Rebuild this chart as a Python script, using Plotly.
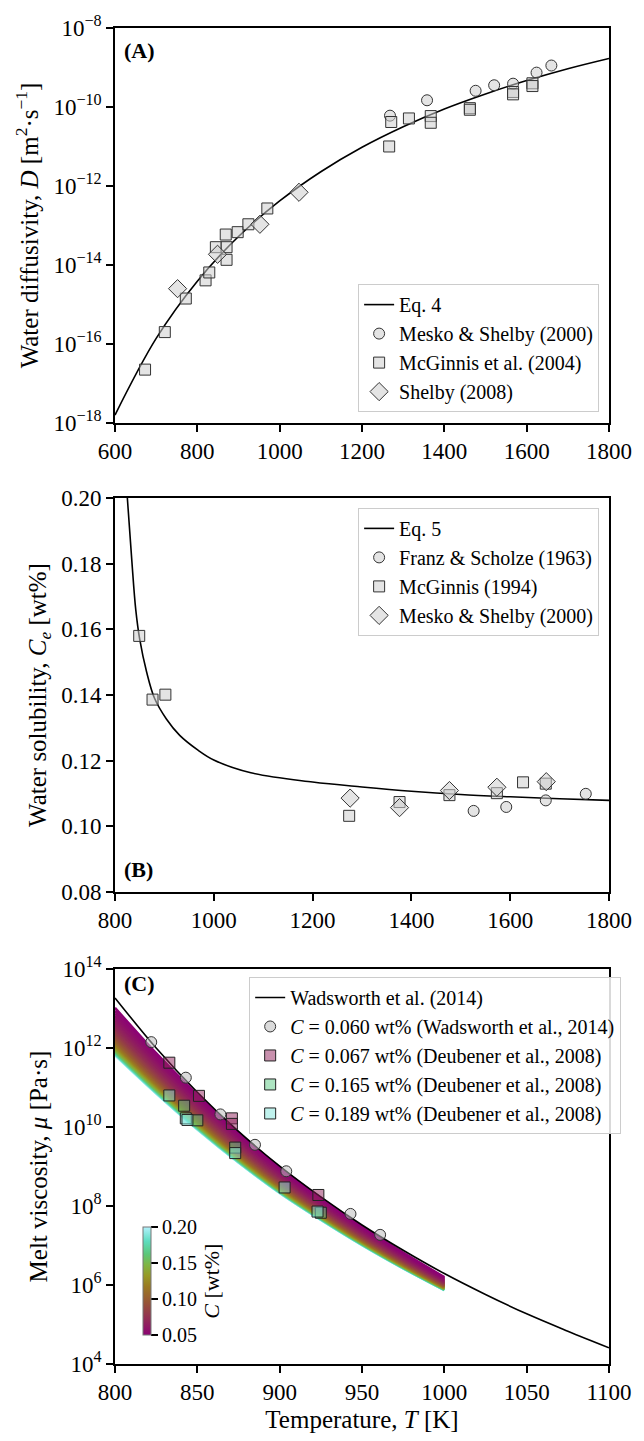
import plotly.graph_objects as go
from plotly.colors import sample_colorscale, unlabel_rgb

# ---------------- Panel A data (log10 D) ----------------
mesko_T = [1268, 1358, 1476, 1521, 1567, 1624, 1660]
mesko_logD = [-10.22, -9.83, -9.59, -9.45, -9.41, -9.13, -8.95]
mcg04_T = [673, 721, 772, 820, 829, 845, 871, 871, 869, 898, 924, 970,
           1266, 1271, 1314, 1367, 1367, 1462, 1462, 1567, 1567, 1614, 1614]
mcg04_logD = [-16.65, -15.70, -14.85, -14.39, -14.19, -13.55, -13.55, -13.87, -13.23, -13.17, -12.97, -12.57,
              -11.00, -10.38, -10.29, -10.23, -10.40, -10.03, -10.07, -9.62, -9.68, -9.40, -9.47]
shelby_T = [752, 849, 952, 1047]
shelby_logD = [-14.60, -13.73, -12.97, -12.16]
eq4_T = [600, 700, 800, 900, 1000, 1100, 1200, 1300, 1400, 1500, 1600, 1700, 1800]
eq4_logD = [-17.80, -15.86, -14.41, -13.28, -12.38, -11.64, -11.02, -10.50, -10.05, -9.67, -9.33, -9.03, -8.77]

# ---------------- Panel B data ----------------
franz_T = [1526, 1592, 1672, 1753]
franz_C = [0.1047, 0.1059, 0.1079, 0.1099]
mcg94_T = [849, 876, 902, 1274, 1376, 1477, 1573, 1626, 1672]
mcg94_C = [0.1580, 0.1386, 0.1401, 0.1032, 0.1074, 0.1095, 0.1101, 0.1134, 0.1130]
mesko00_T = [1276, 1376, 1477, 1573, 1673]
mesko00_C = [0.1086, 0.1057, 0.1109, 0.1119, 0.1136]
eq5_T = [825, 834, 842, 850, 864, 880, 904, 931, 968, 1000, 1075, 1200, 1300, 1400, 1500, 1600, 1700, 1800]
eq5_C = [0.200, 0.181, 0.166, 0.157, 0.147, 0.139, 0.1327, 0.1277, 0.1232, 0.1202, 0.1163, 0.1135,
         0.1120, 0.1107, 0.1097, 0.1090, 0.1084, 0.1079]

# ---------------- Panel C data (log10 mu) ----------------
wad_T = [822, 843, 864, 885, 904, 943, 961]
wad_logmu = [12.15, 11.25, 10.32, 9.55, 8.88, 7.80, 7.27]
d067_T = [833, 851, 871, 871, 923.5]
d067_logmu = [11.63, 10.79, 10.22, 10.08, 8.28]
d165_T = [842, 850, 873, 925]
d165_logmu = [10.54, 10.17, 9.48, 7.83]
d189_T = [833, 843, 844, 873, 903, 923]
d189_logmu = [10.80, 10.22, 10.18, 9.34, 8.47, 7.86]
wline_T = [800, 825, 850, 875, 900, 925, 950, 975, 1000, 1025, 1050, 1075, 1100]
wline_logmu = [13.27, 12.00, 10.88, 9.89, 9.01, 8.23, 7.52, 6.88, 6.29, 5.76, 5.27, 4.83, 4.41]
# model band edges (C = 0.05 top, C = 0.20 bottom)
band_T = [800, 825, 850, 875, 900, 925, 950, 975, 1000]
band_top = [13.02, 11.87, 10.82, 9.86, 8.98, 8.20, 7.48, 6.82, 6.20]
band_bot = [11.82, 10.85, 9.94, 9.10, 8.33, 7.65, 7.01, 6.42, 5.87]
C_levels = [round(0.05 + 0.0025 * i, 4) for i in range(61)]

hawaii = [[0.0, 'rgb(140,2,115)'], [0.15, 'rgb(146,45,85)'], [0.3, 'rgb(151,84,55)'], [0.45, 'rgb(154,122,34)'],
          [0.55, 'rgb(151,154,38)'], [0.65, 'rgb(127,181,68)'], [0.75, 'rgb(91,199,122)'],
          [0.87, 'rgb(93,221,192)'], [1.0, 'rgb(179,242,253)']]

FONT = "Liberation Serif"
GREY = 'rgba(205,205,205,0.55)'
EDGE = dict(color='#333333', width=1)


def p10(v):
    return [10 ** x for x in v]


def cmap(c, alpha=None):
    u = min(1.0, max(0.0, (c - 0.05) / 0.15))
    col = sample_colorscale(hawaii, [u])[0]
    if alpha is None:
        return col
    r, g, b = unlabel_rgb(col)
    return 'rgba(%d,%d,%d,%.2f)' % (round(r), round(g), round(b), alpha)


fig = go.Figure()

# ---- Panel A ----
fig.add_trace(go.Scatter(x=eq4_T, y=p10(eq4_logD), mode='lines', line=dict(color='black', width=1.6, shape='spline'),
                         name='Eq. 4', xaxis='x', yaxis='y', legend='legend'))
fig.add_trace(go.Scatter(x=mesko_T, y=p10(mesko_logD), mode='markers', name='Mesko &amp; Shelby (2000)',
                         marker=dict(symbol='circle', size=11, color=GREY, line=EDGE), xaxis='x', yaxis='y', legend='legend'))
fig.add_trace(go.Scatter(x=mcg04_T, y=p10(mcg04_logD), mode='markers', name='McGinnis et al. (2004)',
                         marker=dict(symbol='square', size=11, color=GREY, line=EDGE), xaxis='x', yaxis='y', legend='legend'))
fig.add_trace(go.Scatter(x=shelby_T, y=p10(shelby_logD), mode='markers', name='Shelby (2008)',
                         marker=dict(symbol='diamond', size=14, color=GREY, line=EDGE), xaxis='x', yaxis='y', legend='legend'))

# ---- Panel B ----
fig.add_trace(go.Scatter(x=eq5_T, y=eq5_C, mode='lines', line=dict(color='black', width=1.6, shape='spline'),
                         name='Eq. 5', xaxis='x2', yaxis='y2', legend='legend2'))
fig.add_trace(go.Scatter(x=franz_T, y=franz_C, mode='markers', name='Franz &amp; Scholze (1963)',
                         marker=dict(symbol='circle', size=11, color=GREY, line=EDGE), xaxis='x2', yaxis='y2', legend='legend2'))
fig.add_trace(go.Scatter(x=mcg94_T, y=mcg94_C, mode='markers', name='McGinnis (1994)',
                         marker=dict(symbol='square', size=11, color=GREY, line=EDGE), xaxis='x2', yaxis='y2', legend='legend2'))
fig.add_trace(go.Scatter(x=mesko00_T, y=mesko00_C, mode='markers', name='Mesko &amp; Shelby (2000)',
                         marker=dict(symbol='diamond', size=14, color=GREY, line=EDGE), xaxis='x2', yaxis='y2', legend='legend2'))

# ---- Panel C ----
for c in reversed(C_levels):
    f = (1 / 0.05 - 1 / c) / (1 / 0.05 - 1 / 0.20)
    ys = [t + f * (b - t) for t, b in zip(band_top, band_bot)]
    fig.add_trace(go.Scatter(x=band_T, y=p10(ys), mode='lines', line=dict(color=cmap(c), width=2.5, shape='spline'),
                             showlegend=False, hoverinfo='skip', xaxis='x3', yaxis='y3'))

fig.add_trace(go.Scatter(x=wline_T, y=p10(wline_logmu), mode='lines', line=dict(color='black', width=1.6, shape='spline'),
                         name='Wadsworth et al. (2014)', xaxis='x3', yaxis='y3', legend='legend3'))
fig.add_trace(go.Scatter(x=wad_T, y=p10(wad_logmu), mode='markers',
                         name='<i>C</i> = 0.060 wt% (Wadsworth et al., 2014)',
                         marker=dict(symbol='circle', size=11, color='rgba(190,190,190,0.55)', line=EDGE),
                         xaxis='x3', yaxis='y3', legend='legend3'))
for T, L, cval, lab in [(d067_T, d067_logmu, 0.067, '0.067'), (d165_T, d165_logmu, 0.165, '0.165'),
                        (d189_T, d189_logmu, 0.189, '0.189')]:
    fig.add_trace(go.Scatter(x=T, y=p10(L), mode='markers',
                             name='<i>C</i> = %s wt%% (Deubener et al., 2008)' % lab,
                             marker=dict(symbol='square', size=11, color=cmap(cval, 0.5),
                                         line=dict(color='#222222', width=1)),
                             xaxis='x3', yaxis='y3', legend='legend3'))

# colorbar holder
cbar = dict(x=0.036, xanchor='left', y=0.062, yanchor='middle',
            lenmode='pixels', len=128, thickness=8,
            outlinewidth=1, outlinecolor='#777777',
            tickvals=[0.05, 0.10, 0.15, 0.20], ticktext=['0.05', '0.10', '0.15', '0.20'],
            ticks='outside', ticklen=7, tickwidth=1.5, tickcolor='black',
            tickfont=dict(family=FONT, size=20, color='black'),
            title=dict(text='<i>C</i> [wt%]', side='right', font=dict(family=FONT, size=22, color='black')))
fig.add_trace(go.Scatter(x=[None], y=[None], mode='markers', showlegend=False, xaxis='x3', yaxis='y3',
                         marker=dict(color=[0.05], cmin=0.05, cmax=0.20, colorscale=hawaii, showscale=True,
                                     colorbar=cbar)))

axis_common = dict(showline=True, mirror=True, linecolor='black', linewidth=1.6, ticks='outside',
                   ticklen=7, tickwidth=1.6, tickcolor='black', showgrid=False, zeroline=False,
                   tickfont=dict(family=FONT, size=23, color='black'),
                   title_font=dict(family=FONT, size=25, color='black'))


def pw(e):
    return '10<sup>%s</sup>' % (str(e).replace('-', '\u2212'))


LEG = dict(bgcolor='rgba(255,255,255,0.85)', bordercolor='#cccccc', borderwidth=1, xref='paper', yref='paper')

fig.update_layout(
    width=644, height=1441, plot_bgcolor='white', paper_bgcolor='white',
    margin=dict(l=115, r=32, t=22, b=66),
    font=dict(family=FONT, color='black'),
    xaxis=dict(axis_common, domain=[0, 1], anchor='y', range=[600, 1800], tickvals=list(range(600, 1801, 200))),
    yaxis=dict(axis_common, domain=[0.7044, 1.0], anchor='x', type='log', range=[-18, -8],
               tickvals=[10 ** e for e in range(-18, -7, 2)], ticktext=[pw(e) for e in range(-18, -7, 2)],
               title=dict(text='Water diffusivity, <i>D</i> [m<sup>2</sup>\u00b7s<sup>\u22121</sup>]', standoff=8)),
    xaxis2=dict(axis_common, domain=[0, 1], anchor='y2', range=[800, 1800], tickvals=list(range(800, 1801, 200))),
    yaxis2=dict(axis_common, domain=[0.3533, 0.6482], anchor='x2', range=[0.08, 0.20],
                tickvals=[0.08, 0.10, 0.12, 0.14, 0.16, 0.18, 0.20], tickformat='.2f',
                title=dict(text='Water solubility, <i>C<sub>e</sub></i> [wt%]', standoff=8)),
    xaxis3=dict(axis_common, domain=[0, 1], anchor='y3', range=[800, 1100], tickvals=list(range(800, 1101, 50)),
                title=dict(text='Temperature, <i>T</i> [K]', standoff=6)),
    yaxis3=dict(axis_common, domain=[0, 0.2956], anchor='x3', type='log', range=[4, 14],
                tickvals=[10 ** e for e in range(4, 15, 2)], ticktext=[pw(e) for e in range(4, 15, 2)],
                title=dict(text='Melt viscosity, <i>\u03bc</i> [Pa\u00b7s]', standoff=8)),
    legend=dict(LEG, x=0.98, y=0.7125, xanchor='right', yanchor='bottom',
                font=dict(family=FONT, size=20, color='black')),
    legend2=dict(LEG, x=0.98, y=0.6408, xanchor='right', yanchor='top',
                 font=dict(family=FONT, size=20, color='black')),
    legend3=dict(LEG, x=0.2716, y=0.2897, xanchor='left', yanchor='top',
                 font=dict(family=FONT, size=20, color='black')),
    annotations=[
        dict(text='<b>(A)</b>', xref='x domain', yref='y domain', x=0.015, y=0.98, xanchor='left', yanchor='top',
             showarrow=False, font=dict(family=FONT, size=22, color='black')),
        dict(text='<b>(B)</b>', xref='x2 domain', yref='y2 domain', x=0.015, y=0.02, xanchor='left', yanchor='bottom',
             showarrow=False, font=dict(family=FONT, size=22, color='black')),
        dict(text='<b>(C)</b>', xref='x3 domain', yref='y3 domain', x=0.015, y=1.0, xanchor='left', yanchor='top',
             showarrow=False, font=dict(family=FONT, size=22, color='black')),
    ],
)

fig.write_html("out.html")
